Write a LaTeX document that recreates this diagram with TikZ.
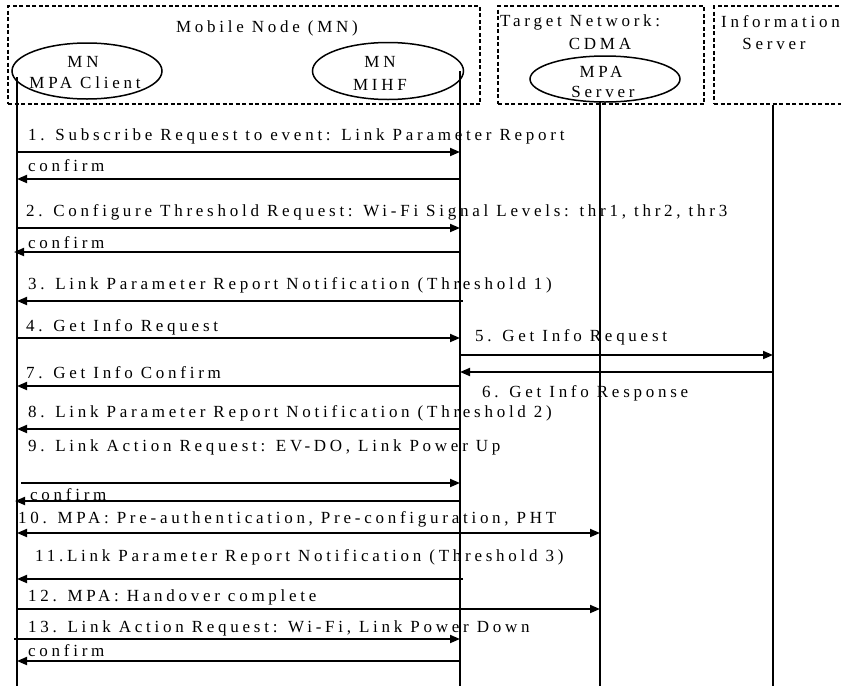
\documentclass[tikz,border=0pt]{standalone}
\usepackage{fontspec}
\setmainfont{Liberation Serif}
\newfontfamily\trk[LetterSpace=22]{Liberation Serif}
\usetikzlibrary{arrows.meta,shapes.geometric}

\begin{document}
\begin{tikzpicture}[x=1pt,y=-1pt,
  grp/.style={draw, dash pattern=on 4pt off 2.5pt, line width=1.4pt, inner sep=0pt},
  actor/.style={draw, ellipse, line width=1.5pt, inner sep=0pt},
  life/.style={line width=1.8pt},
  msg/.style={line width=1.8pt, -{Triangle[length=10pt,width=8pt]}},
  dmsg/.style={line width=1.8pt, {Triangle[length=10pt,width=8pt]}-{Triangle[length=10pt,width=8pt]}},
  lbl/.style={anchor=west, inner sep=0pt, font=\trk\fontsize{17}{19}\selectfont},
  ttl/.style={inner sep=0pt, font=\trk\fontsize{17}{20}\selectfont, align=center},
]
\useasboundingbox (0,0) rectangle (841,686);

% group boxes
\node[grp, minimum width=472pt, minimum height=98pt] (mnbox) at (244,55) {};
\node[grp, minimum width=206pt, minimum height=98pt] (tnbox) at (601,55) {};
\node[grp, minimum width=140pt, minimum height=98pt] (isbox) at (784,55) {};

\node[ttl] (mnlbl) at (267,28) {Mobile Node (MN)};
\node[ttl, anchor=west] (tnlbl) at (500,22) {Target Network:};
\node[ttl] (cdma) at (600,44) {CDMA};
\node[ttl, anchor=west] (islbl) at (721,22) {Information};
\node[ttl] (islbl2) at (774,44) {Server};

% actors
\node[actor, minimum width=150pt, minimum height=56pt] (cl) at (87,71) {};
\node[ttl] at (83,62) {MN};
\node[ttl] at (85,83) {MPA Client};
\node[actor, minimum width=151pt, minimum height=57pt] (mihf) at (388,71) {};
\node[ttl] at (380,62) {MN};
\node[ttl] at (380,85) {MIHF};
\node[actor, minimum width=150pt, minimum height=46pt] (mpas) at (605,79) {};
\node[ttl] at (601,72) {MPA};
\node[ttl] at (603,92) {Server};

% lifelines
\coordinate (lcl) at (17,77);
\coordinate (lmihf) at (460,71);
\coordinate (lmpa) at (600,102);
\coordinate (linfo) at (773,105);
\coordinate (bot) at (0,686);
\draw[life] (lcl) -- (lcl |- bot);
\draw[life] (lmihf) -- (lmihf |- bot);
\draw[life] (lmpa) -- (lmpa |- bot);
\draw[life] (linfo) -- (linfo |- bot);

% messages
\draw[msg] (lcl |- 0,152) -- (lmihf |- 0,152);
\node[lbl] at (28,136) {1. Subscribe Request to event: Link Parameter Report};
\draw[msg] (lmihf |- 0,179) -- (lcl |- 0,179);
\node[lbl] at (28,166) {confirm};
\draw[msg] (lcl |- 0,228) -- (lmihf |- 0,228);
\node[lbl] at (26,212) {2. Configure Threshold Request: Wi-Fi Signal Levels: thr1, thr2, thr3};
\draw[msg] (lmihf |- 0,252) -- ([xshift=-3pt]lcl |- 0,252);
\node[lbl] at (28,243) {confirm};
\draw[msg] ([xshift=3pt]lmihf |- 0,301) -- (lcl |- 0,301);
\node[lbl] at (28,285) {3. Link Parameter Report Notification (Threshold 1)};
\draw[msg] (lcl |- 0,338) -- (lmihf |- 0,338);
\node[lbl] at (26,327) {4. Get Info Request};
\draw[msg] (lmihf |- 0,355) -- (linfo |- 0,355);
\node[lbl] at (475,337) {5. Get Info Request};
\draw[msg] (linfo |- 0,372) -- (lmihf |- 0,372);
\node[lbl] at (482,393) {6. Get Info Response};
\draw[msg] (lmihf |- 0,386) -- (lcl |- 0,386);
\node[lbl] at (26,373) {7. Get Info Confirm};
\draw[msg] (lmihf |- 0,429) -- (lcl |- 0,429);
\node[lbl] at (28,413) {8. Link Parameter Report Notification (Threshold 2)};
\draw[msg] ([xshift=4pt]lcl |- 0,483) -- (lmihf |- 0,483);
\node[lbl] at (28,447) {9. Link Action Request: EV-DO, Link Power Up};
\draw[msg] (lmihf |- 0,501) -- ([xshift=-2pt]lcl |- 0,501);
\node[lbl] at (30,495) {confirm};
\draw[dmsg] (lcl |- 0,533) -- (lmpa |- 0,533);
\node[lbl] at (18,519) {10. MPA: Pre-authentication, Pre-configuration, PHT};
\draw[msg] ([xshift=3pt]lmihf |- 0,579) -- (lcl |- 0,579);
\node[lbl] at (35,557) {11.Link Parameter Report Notification (Threshold 3)};
\draw[msg] (lcl |- 0,609) -- (lmpa |- 0,609);
\node[lbl] at (28,597) {12. MPA: Handover complete};
\draw[msg] ([xshift=-3pt]lcl |- 0,639) -- (lmihf |- 0,639);
\node[lbl] at (28,628) {13. Link Action Request: Wi-Fi, Link Power Down};
\draw[msg] (lmihf |- 0,661) -- (lcl |- 0,661);
\node[lbl] at (28,651) {confirm};
\end{tikzpicture}
\end{document}
